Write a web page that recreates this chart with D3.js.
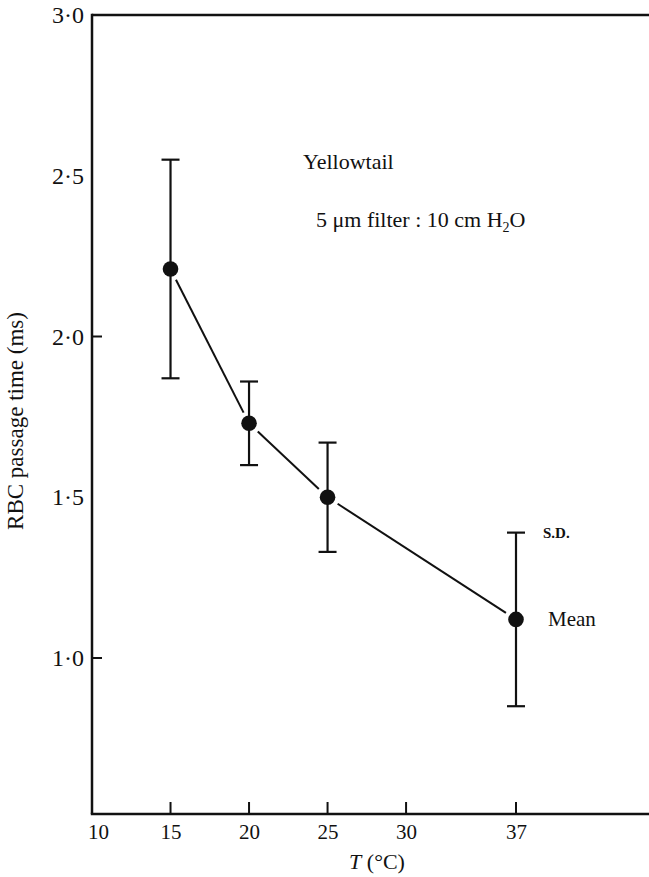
<!DOCTYPE html>
<html>
<head>
<meta charset="utf-8">
<script src="https://cdn.jsdelivr.net/npm/d3@7"></script>
<style>
  body { margin: 0; background: #fff; }
  svg text { font-family: "Liberation Serif", "Times New Roman", serif; fill: #111; }
</style>
</head>
<body>
<svg id="chart"></svg>
<script>
// data
const temps = [15, 20, 25, 37];
const means = [2.21, 1.73, 1.50, 1.12];
const sds = [0.34, 0.13, 0.17, 0.27];
const xTicks = [10, 15, 20, 25, 30, 37];
const yTicks = [1.0, 1.5, 2.0, 2.5, 3.0];
const yMarked = [1.0, 2.0];

const W = 649, H = 877;
const svg = d3.select("#chart").attr("width", W).attr("height", H);

// scales
const x = d3.scaleLinear().domain([10, 37]).range([92, 516]);
const y = d3.scaleLinear().domain([1, 3]).range([658, 15]);
const axisY = 814;   // bottom axis
const ink = "#111";

// frame: top line
svg.append("line").attr("x1", x(10)).attr("x2", W).attr("y1", y(3)).attr("y2", y(3))
    .attr("stroke", ink).attr("stroke-width", 2.5);

// Y axis
const gy = svg.append("g").attr("transform", `translate(${x(10)},0)`)
    .call(d3.axisLeft(y).tickValues(yTicks).tickSize(0).tickPadding(8)
        .tickFormat(d => d.toFixed(1).replace(".", "·")));
gy.select(".domain").remove();
gy.selectAll("text").style("font-size", "24px").attr("fill", ink);
svg.append("line").attr("x1", x(10)).attr("x2", x(10)).attr("y1", y(3) - 1.2).attr("y2", axisY)
    .attr("stroke", ink).attr("stroke-width", 2.5);
svg.selectAll(".ytick").data(yMarked).enter().append("line")
    .attr("x1", x(10)).attr("x2", x(10) + 10)
    .attr("y1", d => y(d)).attr("y2", d => y(d))
    .attr("stroke", ink).attr("stroke-width", 2);

// X axis
const gx = svg.append("g").attr("transform", `translate(0,${axisY})`)
    .call(d3.axisBottom(x).tickValues(xTicks).tickSize(0).tickPadding(10).tickFormat(d3.format("d")));
gx.select(".domain").remove();
gx.selectAll("text").style("font-size", "21px").attr("fill", ink)
    .attr("dx", d => d === 10 ? 6 : 0);
svg.append("line").attr("x1", x(10) - 1.2).attr("x2", W).attr("y1", axisY).attr("y2", axisY)
    .attr("stroke", ink).attr("stroke-width", 2.5);
svg.selectAll(".xtick").data(xTicks.filter(d => d !== 10)).enter().append("line")
    .attr("x1", d => x(d)).attr("x2", d => x(d))
    .attr("y1", axisY).attr("y2", axisY - 12)
    .attr("stroke", ink).attr("stroke-width", 2);

// axis titles
svg.append("text")
    .attr("transform", "translate(23,421) rotate(-90)")
    .attr("text-anchor", "middle")
    .style("font-size", "23px")
    .text("RBC passage time (ms)");

const xt = svg.append("text").attr("x", 377).attr("y", 869)
    .attr("text-anchor", "middle").style("font-size", "22px");
xt.append("tspan").style("font-style", "italic").text("T");
xt.append("tspan").text(" (°C)");

// annotation
svg.append("text").attr("x", 303).attr("y", 169).style("font-size", "22px").text("Yellowtail");
const sub = svg.append("text").attr("x", 316).attr("y", 227).style("font-size", "22px");
sub.append("tspan").text("5 μm filter : 10 cm H");
sub.append("tspan").attr("dy", 5).style("font-size", "14px").text("2");
sub.append("tspan").attr("dy", -5).text("O");

// connecting segments with gaps at the dots
const pts = temps.map((t, i) => [x(t), y(means[i])]);
const gap = 12;
for (let i = 0; i < pts.length - 1; i++) {
    const [x1, y1] = pts[i], [x2, y2] = pts[i + 1];
    const len = Math.hypot(x2 - x1, y2 - y1);
    const ux = (x2 - x1) / len, uy = (y2 - y1) / len;
    svg.append("line")
        .attr("x1", x1 + ux * gap).attr("y1", y1 + uy * gap)
        .attr("x2", x2 - ux * gap).attr("y2", y2 - uy * gap)
        .attr("stroke", ink).attr("stroke-width", 2);
}

// error bars
const bars = svg.selectAll(".err").data(temps).enter().append("g");
bars.append("line")
    .attr("x1", d => x(d)).attr("x2", d => x(d))
    .attr("y1", (d, i) => y(means[i] + sds[i])).attr("y2", (d, i) => y(means[i] - sds[i]))
    .attr("stroke", ink).attr("stroke-width", 2.2);
[1, -1].forEach(s => {
    bars.append("line")
        .attr("x1", d => x(d) - 9).attr("x2", d => x(d) + 9)
        .attr("y1", (d, i) => y(means[i] + s * sds[i])).attr("y2", (d, i) => y(means[i] + s * sds[i]))
        .attr("stroke", ink).attr("stroke-width", 2.2);
});

// mean dots
svg.selectAll(".dot").data(temps).enter().append("circle")
    .attr("cx", d => x(d)).attr("cy", (d, i) => y(means[i]))
    .attr("r", 7.8).attr("fill", ink);

// legend labels next to last point
const last = temps.length - 1;
svg.append("text").attr("x", x(temps[last]) + 27).attr("y", y(means[last] + sds[last]) + 5)
    .style("font-size", "15px").style("font-weight", "bold").text("S.D.");
svg.append("text").attr("x", x(temps[last]) + 32).attr("y", y(means[last]) + 7)
    .style("font-size", "21px").text("Mean");
</script>
</body>
</html>
